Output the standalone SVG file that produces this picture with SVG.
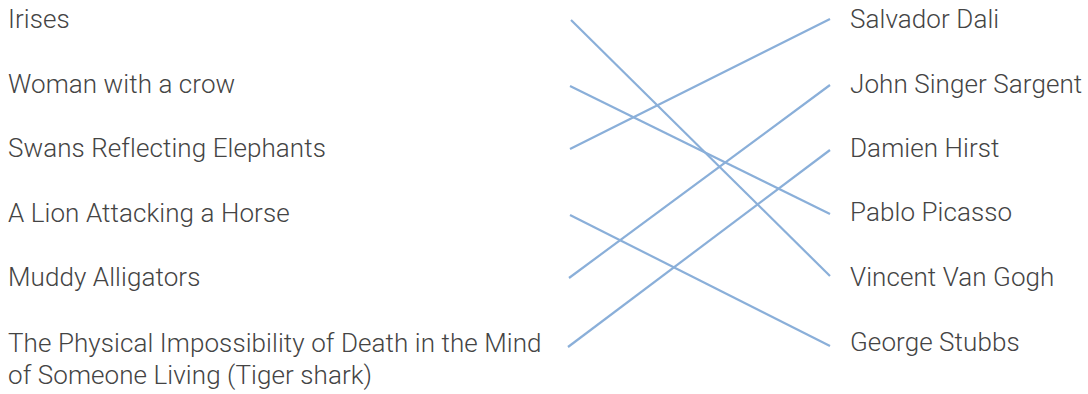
<svg xmlns="http://www.w3.org/2000/svg" width="1088" height="394" viewBox="0 0 1088 394">
<style>
text{font-family:"Helvetica Neue",Roboto,"Liberation Sans",sans-serif;font-weight:300;font-size:26px;letter-spacing:0.08px;fill:#444}
.c line{stroke:#8aafd9;stroke-width:2.2;stroke-linecap:butt}
</style>
<rect width="1088" height="394" fill="#fff"/>
<g id="left-irises"><text x="8" y="28">Irises</text></g>
<g id="left-woman"><text x="8" y="93">Woman with a crow</text></g>
<g id="left-swans"><text x="8" y="157">Swans Reflecting Elephants</text></g>
<g id="left-lion"><text x="8" y="222">A Lion Attacking a Horse</text></g>
<g id="left-muddy"><text x="8" y="286">Muddy Alligators</text></g>
<g id="left-physical"><text x="8" y="352">The Physical Impossibility of Death in the Mind</text><text x="8" y="384">of Someone Living (Tiger shark)</text></g>
<g id="right-dali"><text x="850" y="28">Salvador Dali</text></g>
<g id="right-sargent"><text x="850" y="93">John Singer Sargent</text></g>
<g id="right-hirst"><text x="850" y="157">Damien Hirst</text></g>
<g id="right-picasso"><text x="850" y="221">Pablo Picasso</text></g>
<g id="right-vangogh"><text x="850" y="286">Vincent Van Gogh</text></g>
<g id="right-stubbs"><text x="850" y="351">George Stubbs</text></g>
<g id="connectors" class="c">
<line x1="571" y1="20" x2="830" y2="276"/>
<line x1="570" y1="86" x2="830" y2="214"/>
<line x1="570" y1="149" x2="830" y2="19"/>
<line x1="570" y1="215" x2="830" y2="346"/>
<line x1="569" y1="278" x2="830" y2="85"/>
<line x1="568" y1="347" x2="830" y2="150"/>
</g>
</svg>
